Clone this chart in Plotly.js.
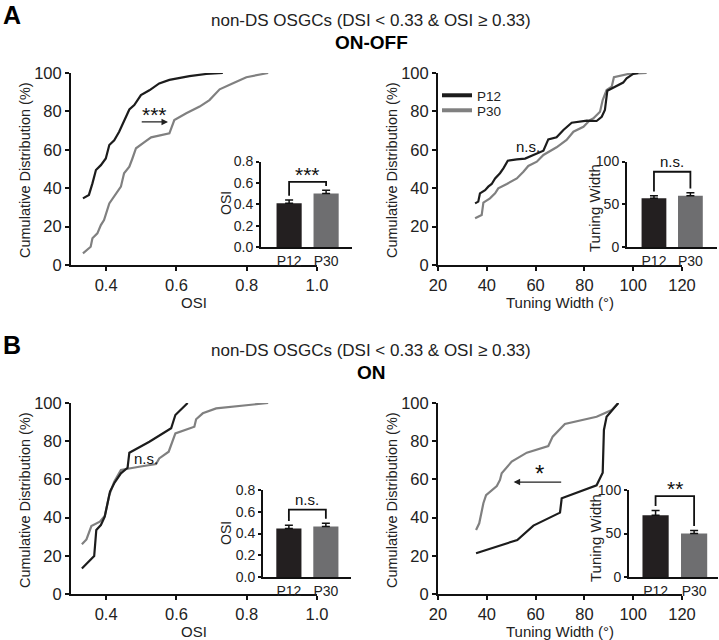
<!DOCTYPE html>
<html>
<head>
<meta charset="utf-8">
<script src="https://cdn.plot.ly/plotly-3.0.1.min.js"></script>
<style>html,body{margin:0;padding:0;background:#fff;}#chart{width:719px;height:640px;}</style>
</head>
<body>
<div id="chart"></div>
<script>
// ---------- DATA ----------
const groups = ['P12', 'P30'];

// Panel A (ON-OFF) – OSI cumulative distribution
const aOsiP12X = [0.334,0.351,0.361,0.371,0.385,0.399,0.409,0.423,0.437,0.451,0.466,0.48,0.499,0.523,0.551,0.58,0.637,0.685,0.732];
const aOsiP12Y = [34.7,36.5,42.5,49.5,52,55.5,62.5,65,69.4,74.6,81,83.3,88.5,91,94.6,96.4,98.4,99.5,100];
const aOsiP30X = [0.334,0.356,0.361,0.375,0.385,0.394,0.409,0.428,0.442,0.451,0.466,0.475,0.485,0.504,0.528,0.58,0.594,0.628,0.666,0.694,0.723,0.761,0.799,0.861];
const aOsiP30Y = [6.1,9.5,13.9,16.5,20.8,23.4,32.1,37.3,40.8,47.8,51.2,55.6,60.8,63.4,66.5,68.6,75.5,79,82.5,85.9,91.5,94.6,97.8,100];

// Panel A (ON-OFF) – tuning width cumulative distribution
const aTwP12X = [35.2,36.5,37.2,39.3,40.6,42,43.4,45.4,46.8,48.6,52.3,55.7,59.1,63.2,65.2,68.6,71.4,74.8,81,85,87.1,88.4,89.4,91.8,93.9,95.9,97.3,100,102.1];
const aTwP12Y = [32.1,33,37.3,39,40.8,42.2,45.1,47.8,50.3,54.3,55,55.4,57.3,59.5,65.4,66.5,70.3,74.1,75.2,75,77.2,80.7,90.8,92.5,93.7,95,97.2,99.5,100];
const aTwP30X = [35.2,37.9,38.6,41.3,43.4,44.7,48.2,52.3,55,57,60.5,63.2,68.6,72.7,75.5,79.6,82.3,83.7,86.4,87.5,89.1,91.2,92.1,96,98,105.5];
const aTwP30Y = [24.3,26,32.5,34.7,37.3,39.9,42.2,45.1,48.6,51.6,53.8,57.3,61.3,65.1,69.4,72,75.5,76.4,79.8,85.9,91.1,92.9,97.8,99,99.5,100];

// Panel B (ON) – OSI cumulative distribution
const bOsiP12X = [0.331,0.366,0.372,0.385,0.396,0.411,0.423,0.442,0.461,0.466,0.523,0.585,0.597,0.632];
const bOsiP12Y = [13.4,19.9,33.5,36.1,40.5,53.6,58,63.2,66.1,74,79.7,86.8,93.7,100];
const bOsiP30X = [0.331,0.344,0.358,0.382,0.396,0.409,0.423,0.442,0.494,0.542,0.551,0.578,0.597,0.651,0.656,0.675,0.713,0.861];
const bOsiP30Y = [26,28.6,35.6,37.9,40.8,51.8,58.8,64.9,66.6,68,71,74.5,84.1,87.6,91.5,94.6,97.2,100];

// Panel B (ON) – tuning width cumulative distribution
const bTwP12X = [35.6,52.5,59.1,70,70.7,85,87.5,88,89.1,93.9];
const bTwP12Y = [21.3,28.3,35.8,42.6,50.1,56.9,63.5,85.9,92.8,100];
const bTwP30X = [35.6,36.9,38.6,39.7,44.1,45.4,46.1,50.2,56.4,65.2,67,72,85,91.2,93.9];
const bTwP30Y = [33.5,37,47.5,51.8,56.5,59.7,63.2,69.3,74,77.5,82.4,89,92.8,96.3,100];

// Inset bar charts: mean and SEM (P12, P30)
const aOsiMean = [0.41, 0.50];  const aOsiSem = [0.03, 0.03];
const aTwMean  = [57, 60];      const aTwSem  = [3, 3.5];
const bOsiMean = [0.445, 0.465]; const bOsiSem = [0.03, 0.03];
const bTwMean  = [71, 50];      const bTwSem  = [5.5, 3.5];

// significance labels and bracket heights
const aOsiSig = '***'; const aOsiBracket = 0.61;
const aTwSig  = 'n.s.'; const aTwBracket = 88;
const bOsiSig = 'n.s.'; const bOsiBracket = 0.62;
const bTwSig  = '**';  const bTwBracket = 93;

// tick labels
const osiTicks = [0.4, 0.6, 0.8, 1.0];
const osiTickText = ['0.4', '0.6', '0.8', '1.0'];
const twTicks = [20, 40, 60, 80, 100, 120];
const cdfTicks = [0, 20, 40, 60, 80, 100];
const insetOsiTicks = [0, 0.2, 0.4, 0.6, 0.8];
const insetOsiTickText = ['0.0', '0.2', '0.4', '0.6', '0.8'];
const insetTwTicks = [0, 50, 100];

// ---------- STYLE ----------
const W = 719, H = 640;
const FONT = 'Arial, "Liberation Sans", Helvetica, sans-serif';
const C12 = '#1c1c1c', C30 = '#808080';
const BAR12 = '#231f20', BAR30 = '#6e6e70';
const TXT = '#222';
const px = v => v / W;
const py = v => 1 - v / H;

const traces = [];
function cdf(xa, ya, x, y, name, color) {
  traces.push({type: 'scatter', mode: 'lines', x: x, y: y, name: name,
    xaxis: xa, yaxis: ya, line: {color: color, width: 2.2}, showlegend: false, hoverinfo: 'skip'});
}
cdf('x', 'y', aOsiP30X, aOsiP30Y, 'P30', C30);
cdf('x', 'y', aOsiP12X, aOsiP12Y, 'P12', C12);
cdf('x2', 'y2', aTwP30X, aTwP30Y, 'P30', C30);
cdf('x2', 'y2', aTwP12X, aTwP12Y, 'P12', C12);
cdf('x3', 'y3', bOsiP30X, bOsiP30Y, 'P30', C30);
cdf('x3', 'y3', bOsiP12X, bOsiP12Y, 'P12', C12);
cdf('x4', 'y4', bTwP30X, bTwP30Y, 'P30', C30);
cdf('x4', 'y4', bTwP12X, bTwP12Y, 'P12', C12);
// legend entries (in panel A right), one legend per entry for tight spacing
traces.push({type: 'scatter', mode: 'lines', x: [null], y: [null], name: groups[0], xaxis: 'x2', yaxis: 'y2',
  line: {color: C12, width: 4}, showlegend: true, legend: 'legend'});
traces.push({type: 'scatter', mode: 'lines', x: [null], y: [null], name: groups[1], xaxis: 'x2', yaxis: 'y2',
  line: {color: C30, width: 4}, showlegend: true, legend: 'legend2'});

const annotations = [];
function inset(xa, ya, mean, sem, sig, top, ymax) {
  traces.push({type: 'bar', x: groups, y: mean, xaxis: xa, yaxis: ya, width: 0.68,
    marker: {color: [BAR12, BAR30], line: {width: 0}}, showlegend: false, hoverinfo: 'skip',
    error_y: {type: 'data', symmetric: false, array: sem, arrayminus: [0, 0],
      color: '#111', thickness: 1.5, width: 4}});
  const gap = ymax * 0.05;
  traces.push({type: 'scatter', mode: 'lines', xaxis: xa, yaxis: ya, showlegend: false, hoverinfo: 'skip',
    x: [groups[0], groups[0], groups[1], groups[1]],
    y: [mean[0] + sem[0] + gap, top, top, mean[1] + sem[1] + gap],
    line: {color: '#111', width: 1.8}});
  const star = sig.indexOf('*') >= 0;
  annotations.push({xref: xa, yref: ya, x: 0.5, y: top, text: sig, showarrow: false, yanchor: 'bottom',
    yshift: star ? -6 : 0, font: {family: FONT, size: star ? 21 : 15, color: '#111'}});
}
inset('x5', 'y5', aOsiMean, aOsiSem, aOsiSig, aOsiBracket, 0.8);
inset('x6', 'y6', aTwMean, aTwSem, aTwSig, aTwBracket, 100);
inset('x7', 'y7', bOsiMean, bOsiSem, bOsiSig, bOsiBracket, 0.8);
inset('x8', 'y8', bTwMean, bTwSem, bTwSig, bTwBracket, 100);

// main-panel significance marks
annotations.push({xref: 'x', yref: 'y', x: 0.537, y: 78.5, text: '***', showarrow: false,
  font: {family: FONT, size: 21, color: '#111'}});
annotations.push({xref: 'x', yref: 'y', axref: 'x', ayref: 'y', x: 0.576, y: 74.5, ax: 0.497, ay: 74.5,
  text: '', showarrow: true, arrowhead: 2, arrowsize: 1, arrowwidth: 1.3, arrowcolor: '#222'});
annotations.push({xref: 'x2', yref: 'y2', x: 57, y: 61.5, text: 'n.s.', showarrow: false,
  font: {family: FONT, size: 15, color: '#111'}});
annotations.push({xref: 'x3', yref: 'y3', x: 0.512, y: 71, text: 'n.s.', showarrow: false,
  font: {family: FONT, size: 15, color: '#111'}});
annotations.push({xref: 'x4', yref: 'y4', x: 61.4, y: 63, text: '*', showarrow: false,
  font: {family: FONT, size: 24, color: '#111'}});
annotations.push({xref: 'x4', yref: 'y4', axref: 'x4', ayref: 'y4', x: 51, y: 58.6, ax: 71.1, ay: 58.6,
  text: '', showarrow: true, arrowhead: 2, arrowsize: 1, arrowwidth: 1.3, arrowcolor: '#222'});

// panel letters, titles, y-axis titles (placed as rotated text)
const titleMain = 'non-DS OSGCs (DSI &lt; 0.33 &amp; OSI ≥ 0.33)';
const cdfTitle = 'Cumulative Distribution (%)';
const insetTitles = [['OSI', 'Tuning Width'], ['OSI', 'Tuning Width']];
[[0, 'A', 'ON-OFF'], [330, 'B', 'ON']].forEach(([off, letter, sub], i) => {
  annotations.push({xref: 'paper', yref: 'paper', x: px(1), y: py(15 + off), text: '<b>' + letter + '</b>',
    showarrow: false, xanchor: 'left', yanchor: 'middle', font: {family: FONT, size: 25, color: '#000'}});
  annotations.push({xref: 'paper', yref: 'paper', x: px(371), y: py(20 + off), text: titleMain,
    showarrow: false, xanchor: 'center', yanchor: 'middle', font: {family: FONT, size: 17, color: TXT}});
  annotations.push({xref: 'paper', yref: 'paper', x: px(371), y: py(42 + off), text: '<b>' + sub + '</b>',
    showarrow: false, xanchor: 'center', yanchor: 'middle', font: {family: FONT, size: 19, color: '#000'}});
  [25, 392].forEach(xc => annotations.push({xref: 'paper', yref: 'paper', x: px(xc), y: py(170 + off),
    text: cdfTitle, textangle: -90, showarrow: false, xanchor: 'center', yanchor: 'middle',
    font: {family: FONT, size: 14.5, color: TXT}}));
  annotations.push({xref: 'paper', yref: 'paper', x: px(226), y: py(203 + off), text: insetTitles[i][0],
    textangle: -90, showarrow: false, xanchor: 'center', yanchor: 'middle', font: {family: FONT, size: 14, color: TXT}});
  annotations.push({xref: 'paper', yref: 'paper', x: px(595), y: py(208 + off), text: insetTitles[i][1],
    textangle: -90, showarrow: false, xanchor: 'center', yanchor: 'middle', font: {family: FONT, size: 15, color: TXT}});
});

function mainAxis(domain, range, tickvals, ticktext, title) {
  return {domain: domain, range: range, tickvals: tickvals, ticktext: ticktext, showline: true, linewidth: 2,
    linecolor: '#111', ticks: 'outside', ticklen: 4, tickwidth: 2, tickcolor: '#111', showgrid: false,
    zeroline: false, automargin: false, fixedrange: true,
    tickfont: {family: FONT, size: 16.5, color: TXT},
    title: {text: title, font: {family: FONT, size: 15, color: TXT}, standoff: 0}};
}
function insetY(domain, range, tickvals, ticktext, anchor) {
  return {domain: domain, range: range, tickvals: tickvals, ticktext: ticktext, showline: true, linewidth: 2,
    linecolor: '#111', ticks: 'outside', ticklen: 3, tickwidth: 2, tickcolor: '#111', showgrid: false,
    zeroline: false, automargin: false, fixedrange: true, anchor: anchor,
    tickfont: {family: FONT, size: 14, color: TXT}};
}
function insetX(domain, range, anchor) {
  return {domain: domain, range: range, type: 'category', showline: true, linewidth: 2, linecolor: '#111',
    ticks: '', showgrid: false, zeroline: false, automargin: false, fixedrange: true, anchor: anchor,
    tickfont: {family: FONT, size: 14, color: TXT}};
}

const yA = [py(265), py(73)], yB = [py(594), py(403)];
const yAi = [py(247), py(161.5)], yBi = [py(577), py(490)];
const legendBase = {xanchor: 'left', yanchor: 'top', bgcolor: 'rgba(0,0,0,0)', itemwidth: 30,
  font: {family: FONT, size: 13.5, color: TXT}};

const layout = {
  width: W, height: H, margin: {l: 0, r: 0, t: 0, b: 0},
  paper_bgcolor: '#fff', plot_bgcolor: 'rgba(0,0,0,0)', showlegend: true,
  font: {family: FONT, color: TXT},
  legend: Object.assign({x: px(437), y: py(80)}, legendBase),
  legend2: Object.assign({x: px(437), y: py(95)}, legendBase),
  xaxis:  Object.assign(mainAxis([px(71), px(317)], [0.3, 1.0], osiTicks, osiTickText, 'OSI'), {anchor: 'y'}),
  yaxis:  Object.assign(mainAxis(yA, [0, 100], cdfTicks, null, ''), {anchor: 'x'}),
  xaxis2: Object.assign(mainAxis([px(438), px(682)], [20, 120], twTicks, null, 'Tuning Width (°)'), {anchor: 'y2'}),
  yaxis2: Object.assign(mainAxis(yA, [0, 100], cdfTicks, null, ''), {anchor: 'x2'}),
  xaxis3: Object.assign(mainAxis([px(71), px(317)], [0.3, 1.0], osiTicks, osiTickText, 'OSI'), {anchor: 'y3'}),
  yaxis3: Object.assign(mainAxis(yB, [0, 100], cdfTicks, null, ''), {anchor: 'x3'}),
  xaxis4: Object.assign(mainAxis([px(438), px(682)], [20, 120], twTicks, null, 'Tuning Width (°)'), {anchor: 'y4'}),
  yaxis4: Object.assign(mainAxis(yB, [0, 100], cdfTicks, null, ''), {anchor: 'x4'}),
  xaxis5: insetX([px(261), px(352)], [-0.76, 1.70], 'y5'),
  yaxis5: insetY(yAi, [0, 0.8], insetOsiTicks, insetOsiTickText, 'x5'),
  xaxis6: insetX([px(627), px(717)], [-0.74, 1.73], 'y6'),
  yaxis6: insetY(yAi, [0, 100], insetTwTicks, null, 'x6'),
  xaxis7: insetX([px(263), px(351)], [-0.70, 1.68], 'y7'),
  yaxis7: insetY(yBi, [0, 0.8], insetOsiTicks, insetOsiTickText, 'x7'),
  xaxis8: insetX([px(629), px(718)], [-0.69, 1.62], 'y8'),
  yaxis8: insetY(yBi, [0, 100], insetTwTicks, null, 'x8'),
  annotations: annotations
};

Plotly.newPlot('chart', traces, layout, {staticPlot: true, displayModeBar: false});
</script>
</body>
</html>
